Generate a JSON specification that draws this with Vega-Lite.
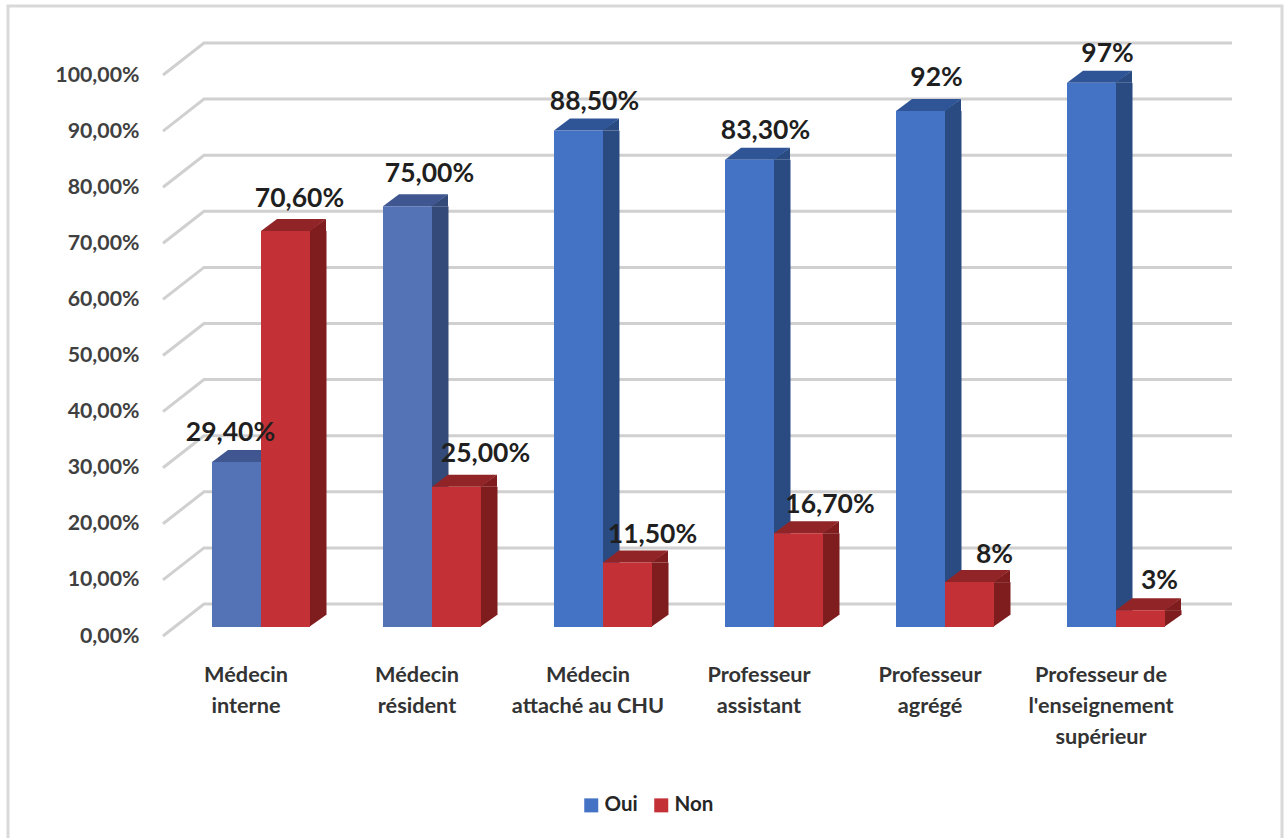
{
"$schema":"https://vega.github.io/schema/vega-lite/v6.json",
"autosize":{"type":"none"},
"padding":{"left":8,"top":6,"right":2,"bottom":0},
"width":1274,"height":840,
"background":"white",
"config":{"view":{"stroke":"#D9D9D9","strokeWidth":3},"font":"Lato"},
"datasets":{"barres":[
{"categorie":"Médecin\ninterne","serie":"Oui","valeur":29.4,"etiquette":"29,40%"},
{"categorie":"Médecin\ninterne","serie":"Non","valeur":70.6,"etiquette":"70,60%"},
{"categorie":"Médecin\nrésident","serie":"Oui","valeur":75,"etiquette":"75,00%"},
{"categorie":"Médecin\nrésident","serie":"Non","valeur":25,"etiquette":"25,00%"},
{"categorie":"Médecin\nattaché au CHU","serie":"Oui","valeur":88.5,"etiquette":"88,50%"},
{"categorie":"Médecin\nattaché au CHU","serie":"Non","valeur":11.5,"etiquette":"11,50%"},
{"categorie":"Professeur\nassistant","serie":"Oui","valeur":83.3,"etiquette":"83,30%"},
{"categorie":"Professeur\nassistant","serie":"Non","valeur":16.7,"etiquette":"16,70%"},
{"categorie":"Professeur\nagrégé","serie":"Oui","valeur":92,"etiquette":"92%"},
{"categorie":"Professeur\nagrégé","serie":"Non","valeur":8,"etiquette":"8%"},
{"categorie":"Professeur de\nl'enseignement\nsupérieur","serie":"Oui","valeur":97,"etiquette":"97%"},
{"categorie":"Professeur de\nl'enseignement\nsupérieur","serie":"Non","valeur":3,"etiquette":"3%"}
],
"graduations":[
{"categorie":"Médecin\ninterne","graduation":0},{"categorie":"Médecin\ninterne","graduation":10},{"categorie":"Médecin\ninterne","graduation":20},{"categorie":"Médecin\ninterne","graduation":30},{"categorie":"Médecin\ninterne","graduation":40},{"categorie":"Médecin\ninterne","graduation":50},{"categorie":"Médecin\ninterne","graduation":60},{"categorie":"Médecin\ninterne","graduation":70},{"categorie":"Médecin\ninterne","graduation":80},{"categorie":"Médecin\ninterne","graduation":90},{"categorie":"Médecin\ninterne","graduation":100}
]},
"layer":[
{"data":{"name":"graduations"},
 "mark":{"type":"point","shape":"M-83,0 L-42,-32 L986,-32","size":4,"filled":false,"stroke":"#D0D0D0","strokeWidth":3,"opacity":1},
 "encoding":{
  "x":{"field":"categorie","type":"nominal","sort":null,"scale":{"range":[152.5,1178.5],"paddingInner":0,"paddingOuter":0}},
  "y":{"field":"graduation","type":"quantitative","scale":{"domain":[0,100],"range":[630,69]}}
 }},
{"data":{"name":"barres"},
 "encoding":{
  "x":{"field":"categorie","type":"nominal","sort":null,"title":null,"scale":{"range":[152.5,1178.5],"paddingInner":0,"paddingOuter":0},
   "axis":{"orient":"bottom","offset":-186,"domain":false,"ticks":false,"labelAngle":0,"labelAlign":"center","labelExpr":"split(datum.value,'\\n')","labelFont":"Lato","labelFontWeight":"bold","labelFontSize":21.7,"labelColor":"#333333","labelLineHeight":31,"labelPadding":4,"labelBaseline":"top"}},
  "xOffset":{"field":"serie","type":"nominal","sort":["Oui","Non"],"scale":{"range":[51.5,149.5],"paddingInner":0,"paddingOuter":0}},
  "y":{"field":"valeur","type":"quantitative","title":null,"scale":{"domain":[0,100],"range":[630,69]},
   "axis":{"orient":"left","offset":-135,"domain":false,"ticks":false,"grid":false,"values":[0,10,20,30,40,50,60,70,80,90,100],"labelExpr":"replace(format(datum.value,'.2f'),'.',',')+'%'","labelFont":"Lato","labelFontWeight":"bold","labelFontSize":21.3,"labelColor":"#404040","labelPadding":4,"labelOffset":0}}
 },
 "layer":[
  {"transform":[{"filter":"datum.serie=='Oui'"}],"mark":{"type":"bar","width":17,"xOffset":23,"yOffset":-9,"y2Offset":-21},
   "encoding":{"xOffset":null,"y2":{"datum":0},"color":{"condition":{"test":"datum.valeur==29.4||datum.valeur==75","value":"#344A78"},"value":"#2A4B82"}}},
  {"transform":[{"filter":"datum.serie=='Non'"}],"mark":{"type":"bar","width":17,"xOffset":72,"yOffset":-9,"y2Offset":-21,"color":"#7F1D1E"},
   "encoding":{"xOffset":null,"y2":{"datum":0}}},
  {"mark":{"type":"point","shape":"M23.5,0 L40.5,-12 L40.5,0 Z","size":4,"filled":true,"opacity":1,"yOffset":-9},
   "encoding":{"color":{"condition":[{"test":"datum.serie=='Non'","value":"#7F1D1E"},{"test":"datum.valeur==29.4||datum.valeur==75","value":"#344A78"}],"value":"#2A4B82"}}},
  {"mark":{"type":"point","shape":"M23.5,0 L23.5,-12 L40.5,-12 Z","size":4,"filled":true,"opacity":1,"yOffset":-9},
   "encoding":{"y":{"datum":0},"color":{"condition":[{"test":"datum.serie=='Non'","value":"#7F1D1E"},{"test":"datum.valeur==29.4||datum.valeur==75","value":"#344A78"}],"value":"#2A4B82"}}},
  {"mark":{"type":"point","shape":"M-24.5,0 L24.5,0 L40.5,-12 L-8.5,-12 Z","size":4,"filled":true,"opacity":1,"yOffset":-9},
   "encoding":{"color":{"condition":[{"test":"datum.serie=='Non'","value":"#912426"},{"test":"datum.valeur==29.4||datum.valeur==75","value":"#3F5690"}],"value":"#2F5597"}}},
  {"mark":{"type":"bar","yOffset":-9,"y2Offset":-9},
   "encoding":{"y2":{"datum":0},"color":{"condition":{"test":"datum.serie=='Oui'&&(datum.valeur==29.4||datum.valeur==75)","value":"#5472B6"},"field":"serie","type":"nominal","sort":["Oui","Non"],"title":null,
    "scale":{"domain":["Oui","Non"],"range":["#4472C4","#C33035"]},
    "legend":{"orient":"none","legendX":573,"legendY":789,"direction":"horizontal","columns":2,"symbolType":"square","symbolSize":196,"symbolStrokeWidth":0,"labelFont":"Lato","labelFontWeight":"bold","labelFontSize":20.5,"labelColor":"#262626","columnPadding":13,"labelOffset":3}}}},
  {"transform":[{"filter":"datum.valeur==29.4"}],"mark":{"type":"text","font":"Lato","fontWeight":"bold","fontSize":26.5,"color":"#1F1F1F","xOffset":-15.5,"yOffset":-38},"encoding":{"xOffset":null,"text":{"field":"etiquette"}}},
  {"transform":[{"filter":"datum.valeur==75"}],"mark":{"type":"text","font":"Lato","fontWeight":"bold","fontSize":26.5,"color":"#1F1F1F","xOffset":12.5,"yOffset":-41},"encoding":{"xOffset":null,"text":{"field":"etiquette"}}},
  {"transform":[{"filter":"datum.valeur==88.5||datum.valeur==83.3||datum.valeur==97"}],"mark":{"type":"text","font":"Lato","fontWeight":"bold","fontSize":26.5,"color":"#1F1F1F","xOffset":6.5,"yOffset":-38},"encoding":{"xOffset":null,"text":{"field":"etiquette"}}},
  {"transform":[{"filter":"datum.valeur==92"}],"mark":{"type":"text","font":"Lato","fontWeight":"bold","fontSize":26.5,"color":"#1F1F1F","xOffset":6.5,"yOffset":-42},"encoding":{"xOffset":null,"text":{"field":"etiquette"}}},
  {"transform":[{"filter":"datum.valeur==70.6"}],"mark":{"type":"text","font":"Lato","fontWeight":"bold","fontSize":26.5,"color":"#1F1F1F","xOffset":53.5,"yOffset":-41},"encoding":{"xOffset":null,"text":{"field":"etiquette"}}},
  {"transform":[{"filter":"datum.valeur==3"}],"mark":{"type":"text","font":"Lato","fontWeight":"bold","fontSize":26.5,"color":"#1F1F1F","xOffset":58.5,"yOffset":-38},"encoding":{"xOffset":null,"text":{"field":"etiquette"}}},
  {"transform":[{"filter":"datum.valeur==25"}],"mark":{"type":"text","font":"Lato","fontWeight":"bold","fontSize":26.5,"color":"#1F1F1F","xOffset":68.5,"yOffset":-42},"encoding":{"xOffset":null,"text":{"field":"etiquette"}}},
  {"transform":[{"filter":"datum.valeur==16.7"}],"mark":{"type":"text","font":"Lato","fontWeight":"bold","fontSize":26.5,"color":"#1F1F1F","xOffset":71,"yOffset":-37},"encoding":{"xOffset":null,"text":{"field":"etiquette"}}},
  {"transform":[{"filter":"datum.valeur==11.5||datum.valeur==8"}],"mark":{"type":"text","font":"Lato","fontWeight":"bold","fontSize":26.5,"color":"#1F1F1F","xOffset":64.5,"yOffset":-36},"encoding":{"xOffset":null,"text":{"field":"etiquette"}}}
 ]}
]
}
